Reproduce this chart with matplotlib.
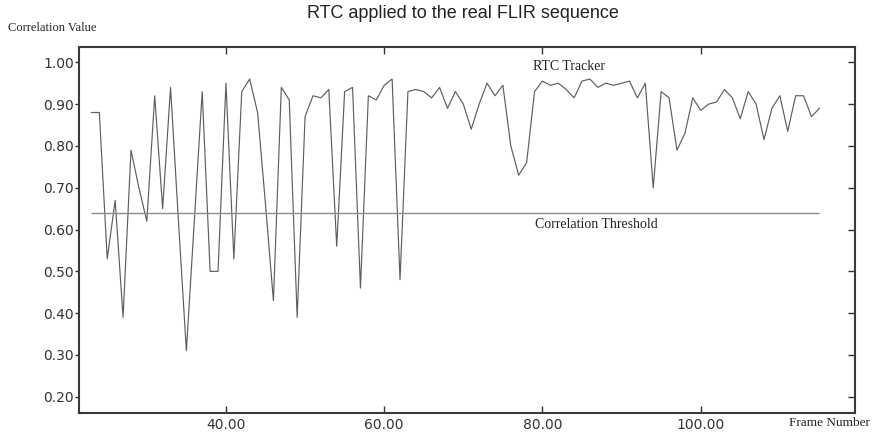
"""
RTC tracker correlation on the real FLIR sequence.

Redraws the correlation-vs-frame plot with the fixed threshold line.
"""

import matplotlib
matplotlib.use("Agg")
import matplotlib.pyplot as plt

# -------------------------------------------------------------------
# Data
# -------------------------------------------------------------------
FIRST_FRAME = 23
correlation = [
    0.88, 0.88, 0.53, 0.67, 0.39, 0.79, 0.70, 0.62,              # 23-30
    0.92, 0.65, 0.94, 0.62, 0.31, 0.62, 0.93, 0.50, 0.50, 0.95,  # 31-40
    0.53, 0.93, 0.96, 0.88, 0.66, 0.43, 0.94, 0.91, 0.39, 0.87,  # 41-50
    0.92, 0.915, 0.935, 0.56, 0.93, 0.94, 0.46, 0.92, 0.91, 0.945,  # 51-60
    0.96, 0.48, 0.93, 0.935, 0.93, 0.915, 0.94, 0.89, 0.93, 0.90,   # 61-70
    0.84, 0.90, 0.95, 0.92, 0.945, 0.80, 0.73, 0.76, 0.93, 0.955,   # 71-80
    0.945, 0.95, 0.935, 0.915, 0.955, 0.96, 0.94, 0.95, 0.945, 0.95,  # 81-90
    0.955, 0.915, 0.95, 0.70, 0.93, 0.915, 0.79, 0.83, 0.915, 0.885,  # 91-100
    0.90, 0.905, 0.935, 0.915, 0.865, 0.93, 0.90, 0.815, 0.89, 0.92,  # 101-110
    0.835, 0.92, 0.92, 0.87, 0.89,                                    # 111-115
]
frames = list(range(FIRST_FRAME, FIRST_FRAME + len(correlation)))

threshold = 0.64

x_ticks = [40, 60, 80, 100]
y_ticks = [0.20, 0.30, 0.40, 0.50, 0.60, 0.70, 0.80, 0.90, 1.00]

SERIF = ["Liberation Serif", "DejaVu Serif"]
SANS = ["Liberation Sans", "DejaVu Sans"]

# -------------------------------------------------------------------
# Figure
# -------------------------------------------------------------------
W, H = 872, 433
fig = plt.figure(figsize=(W / 100, H / 100), dpi=100)
ax = fig.add_axes([79 / W, 1 - 412.7 / H, (855 - 79) / W, (412.7 - 47) / H])

ax.plot(frames, correlation, color="#5e5e5e", lw=0.85)
ax.hlines(threshold, frames[0], frames[-1], color="#8c8c8c", lw=1.0)

ax.set_xlim(21.43, 119.5)
ax.set_ylim(0.162, 1.0366)

ax.set_xticks(x_ticks)
ax.set_xticklabels([f"{v:.2f}" for v in x_ticks])
ax.set_yticks(y_ticks)
ax.set_yticklabels([f"{v:.2f}" for v in y_ticks])

for lab in ax.get_xticklabels() + ax.get_yticklabels():
    lab.set_fontfamily("DejaVu Sans")
    lab.set_fontsize(10)
    lab.set_color("#333333")

ax.tick_params(axis="y", which="both", direction="out", length=3, width=1,
               color="#333333", pad=0.5, right=True)
ax.tick_params(axis="x", which="both", direction="in", length=5, width=1,
               color="#333333", pad=4, top=True)
# right-hand ticks point inward while left ones point out
for t in ax.yaxis.get_major_ticks():
    t.tick2line.set_marker(matplotlib.markers.TICKLEFT)
    t.tick2line.set_markersize(5)

for side in ["left", "right", "top", "bottom"]:
    ax.spines[side].set_color("#3a3a3a")
    ax.spines[side].set_linewidth(1.5)

# -------------------------------------------------------------------
# Text
# -------------------------------------------------------------------
fig.text(463 / W, 1 - 13 / H, "RTC applied to the real FLIR sequence",
         ha="center", va="center", fontsize=13, family=SANS, color="#222222")
fig.text(8 / W, 1 - 28 / H, "Correlation Value",
         ha="left", va="center", fontsize=9, family=SERIF, color="#222222")
fig.text(870 / W, 1 - 423 / H, "Frame Number",
         ha="right", va="center", fontsize=9.5, family=SERIF, color="#222222")

fig.text(533 / W, 1 - 67 / H, "RTC Tracker",
         ha="left", va="center", fontsize=10, family=SERIF, color="#222222")
fig.text(535 / W, 1 - 224 / H, "Correlation Threshold",
         ha="left", va="center", fontsize=10, family=SERIF, color="#222222")

fig.savefig("out.png", dpi=100)
